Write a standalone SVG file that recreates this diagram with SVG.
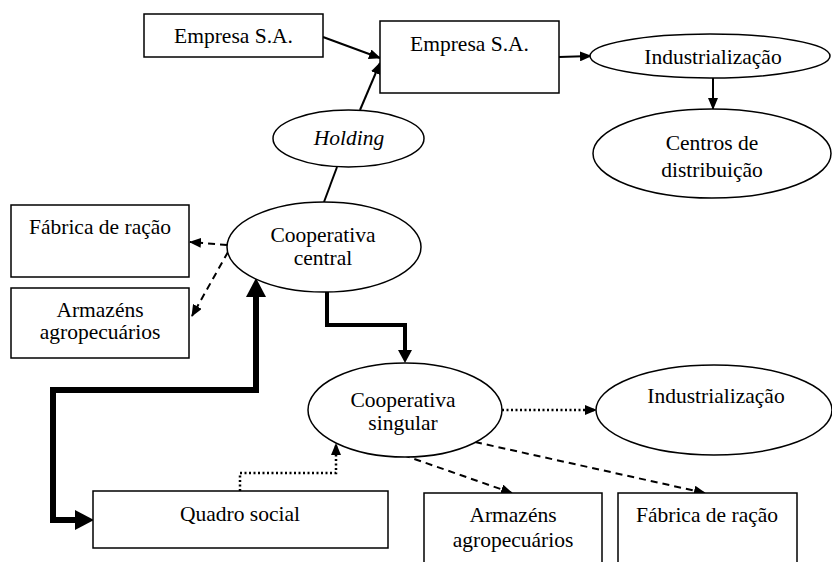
<svg xmlns="http://www.w3.org/2000/svg" width="832" height="562" viewBox="0 0 832 562" font-family="Liberation Serif, DejaVu Serif, serif">
<style>
.n{fill:#fff;stroke:#000;stroke-width:1.5}
text{font-family:'Liberation Serif','DejaVu Serif',serif;font-size:21.5px;fill:#000;text-anchor:middle}
.c{fill:none;stroke:#000;stroke-width:2}
.dash{stroke-dasharray:7 5}
.dot{stroke-dasharray:2 2.5;stroke-width:2.5}
</style>
<defs>
<marker id="a" viewBox="0 0 12 10" refX="11" refY="5" markerWidth="12" markerHeight="10" markerUnits="userSpaceOnUse" orient="auto"><path d="M0,0L12,5L0,10z"/></marker>
<marker id="m" viewBox="0 0 13 14" refX="0" refY="7" markerWidth="13" markerHeight="14" markerUnits="userSpaceOnUse" orient="auto"><path d="M0,0L13,7L0,14z"/></marker>
<marker id="b" viewBox="0 0 19 20" refX="0" refY="10" markerWidth="19" markerHeight="20" markerUnits="userSpaceOnUse" orient="auto-start-reverse"><path d="M0,0L19,10L0,20z"/></marker>
</defs>
<g id="connectors">
<path class="c" d="M323,37L380,58" marker-end="url(#a)"/>
<path class="c" d="M360,110L380,63" marker-end="url(#a)"/>
<path class="c" d="M559,57L591,56" marker-end="url(#a)"/>
<path class="c" d="M713,78L713,109" marker-end="url(#a)"/>
<path class="c" d="M337,167L324,202"/>
<path class="c dash" d="M227,245L190,242" marker-end="url(#a)"/>
<path class="c dash" d="M228,252L192,316" marker-end="url(#a)"/>
<path class="c dash" d="M403,455L512,493" marker-end="url(#a)"/>
<path class="c dash" d="M475,442L705,493" marker-end="url(#a)"/>
<path class="c dot" d="M502,410L596,410" marker-end="url(#a)"/>
<path class="c dot" d="M240,491V473H336V444" marker-end="url(#a)"/>
<path class="c" style="stroke-width:4;stroke-linejoin:miter" d="M327,292V325H405V350" marker-end="url(#m)"/>
<path class="c" style="stroke-width:6;stroke-linejoin:miter" d="M256,297V390H53V520H75" marker-start="url(#b)" marker-end="url(#b)"/>
</g>
<g id="empresa1"><rect class="n" x="144" y="14" width="179" height="43"/><text x="233.5" y="43">Empresa S.A.</text></g>
<g id="empresa2"><rect class="n" x="380" y="21" width="179" height="72"/><text x="469.5" y="51">Empresa S.A.</text></g>
<g id="industrializacao1"><ellipse class="n" cx="710" cy="56" rx="120" ry="22"/><text x="713" y="64">Industrialização</text></g>
<g id="centros"><ellipse class="n" cx="712" cy="153.5" rx="119" ry="44.5"/><text x="712" y="150">Centros de</text><text x="712" y="177">distribuição</text></g>
<g id="holding"><ellipse class="n" cx="348.5" cy="138.5" rx="75.5" ry="28.5"/><text x="349" y="145" font-style="italic">Holding</text></g>
<g id="fabrica1"><rect class="n" x="11" y="205" width="178" height="72"/><text x="100" y="234">Fábrica de ração</text></g>
<g id="armazens1"><rect class="n" x="11" y="288" width="178" height="70"/><text x="100" y="317">Armazéns</text><text x="100" y="339">agropecuários</text></g>
<g id="coopcentral"><ellipse class="n" cx="324" cy="247" rx="97" ry="45"/><text x="323" y="242">Cooperativa</text><text x="323" y="265">central</text></g>
<g id="coopsingular"><ellipse class="n" cx="405" cy="410" rx="97" ry="47"/><text x="403" y="407">Cooperativa</text><text x="403" y="430">singular</text></g>
<g id="industrializacao2"><ellipse class="n" cx="714" cy="410" rx="118" ry="45"/><text x="716" y="403">Industrialização</text></g>
<g id="quadro"><rect class="n" x="93" y="491" width="295" height="57"/><text x="240" y="521">Quadro social</text></g>
<g id="armazens2"><rect class="n" x="424" y="493" width="178" height="80"/><text x="513" y="522">Armazéns</text><text x="513" y="547">agropecuários</text></g>
<g id="fabrica2"><rect class="n" x="618" y="493" width="179" height="80"/><text x="707" y="522">Fábrica de ração</text></g>
</svg>
